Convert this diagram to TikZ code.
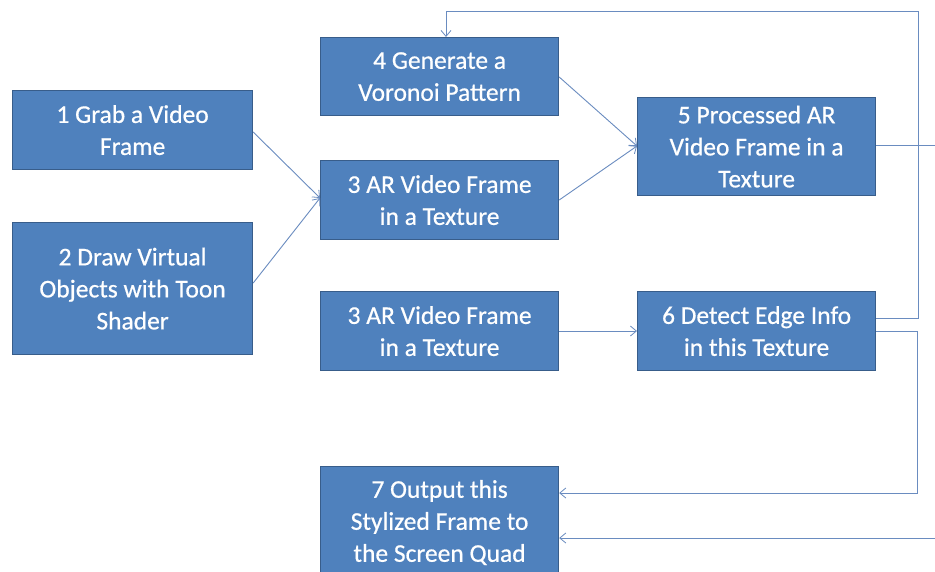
\documentclass[tikz,border=0pt]{standalone}
\usepackage{fontspec}
\setmainfont{Carlito}
\newfontfamily\boxfont[FakeBold=0.6]{Carlito}
\usetikzlibrary{arrows.meta}
\definecolor{boxfill}{HTML}{4F81BD}
\definecolor{boxline}{HTML}{385D8A}
\definecolor{linkcol}{HTML}{6A8CC0}
\tikzset{
  stepbox/.style={draw=boxline, line width=1.2pt, fill=boxfill, text=white,
    font=\boxfont\fontsize{25.5}{32}\selectfont, align=center, inner sep=0pt,
    anchor=north west},
  link/.style={draw=linkcol, line width=0.9pt,
    -{Straight Barb[length=6pt,width=10pt,line width=0.8pt]}}
}
\begin{document}
\begin{tikzpicture}[x=1pt,y=-1pt]
\useasboundingbox (0,0) rectangle (935,571);
\fill[white] (0,0) rectangle (935,571);
\begin{scope}
\clip (0,0) rectangle (935,571);
% process steps
\node[stepbox, minimum width=240pt, minimum height=79pt] (grab) at (12,90) {1 Grab a Video\\Frame};
\node[stepbox, minimum width=240pt, minimum height=132pt] (draw) at (12,222) {2 Draw Virtual\\Objects with Toon\\Shader};
\node[stepbox, minimum width=238pt, minimum height=78pt] (voronoi) at (320,37) {4 Generate a\\Voronoi Pattern};
\node[stepbox, minimum width=238pt, minimum height=79pt] (arA) at (320,160) {3 AR Video Frame\\in a Texture};
\node[stepbox, minimum width=238pt, minimum height=98pt] (proc) at (637,97) {5 Processed AR\\Video Frame in a\\Texture};
\node[stepbox, minimum width=238pt, minimum height=79pt] (arB) at (320,291) {3 AR Video Frame\\in a Texture};
\node[stepbox, minimum width=238pt, minimum height=79pt] (edge) at (637,291) {6 Detect Edge Info\\in this Texture};
\node[stepbox, minimum width=238pt, minimum height=112pt] (out) at (320,466) {7 Output this\\Stylized Frame to\\the Screen Quad};
% routing points
\coordinate (topR) at (918,11);
\coordinate (topL) at (446,11);
\coordinate (farR) at (935,145);
\coordinate (farB) at (935,538);
% connectors
\draw[link] (grab.east |- 0,132) -- (arA.west |- 0,198);
\draw[link] (draw.east |- 0,283) -- (arA.west |- 0,198);
\draw[link] (voronoi.east |- 0,77) -- (proc.west |- 0,146);
\draw[link] (arA.east |- 0,200) -- (proc.west |- 0,146);
\draw[link] (arB.east |- 0,331) -- (edge.west |- 0,331);
\draw[link] (edge.east |- 0,318) -- (topR |- 0,318) -- (topR) -- (topL) -- (voronoi.north -| topL);
\draw[link] (edge.east |- 0,331) -- (917,331) -- (917,493) -- (out.east |- 0,493);
\draw[draw=linkcol, line width=0.9pt] (proc.east |- farR) -- (farR);
\draw[link] (farB) -- (out.east |- farB);
\end{scope}
\end{tikzpicture}
\end{document}
